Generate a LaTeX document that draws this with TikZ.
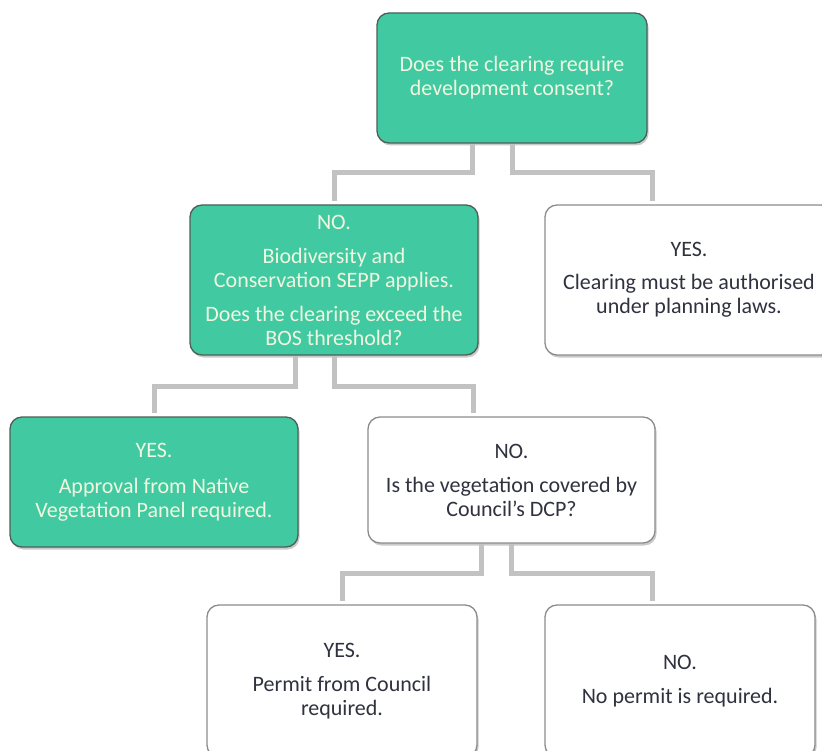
\documentclass[tikz,border=0pt]{standalone}
\usepackage{fontspec}
\setmainfont{Carlito}
\usepackage{tikz}
\usetikzlibrary{shadows}
\definecolor{teal1}{HTML}{41C9A2}
\definecolor{tealedge}{HTML}{4E5F58}
\definecolor{creamtext}{HTML}{F1F6DF}
\definecolor{darktext}{HTML}{30323F}
\definecolor{linkgray}{HTML}{C2C2C2}
\definecolor{boxedge}{HTML}{8C8C8C}

\begin{document}
\begin{tikzpicture}[x=1pt,y=-1pt,
  box/.style={rounded corners=12pt,line width=1.3pt,inner sep=0pt,align=center,
    font=\fontsize{22}{24}\selectfont,
    drop shadow={shadow xshift=1.5pt,shadow yshift=-2.5pt,opacity=.35,fill=black!60}},
  greenbox/.style={box,draw=tealedge,fill=teal1,text=creamtext},
  whitebox/.style={box,draw=boxedge,fill=white,text=darktext},
  link/.style={draw=linkgray,line width=5pt,shorten >=3pt}]
  \useasboundingbox (0,0) rectangle (822,751);
  \node[greenbox,minimum width=270pt,minimum height=130pt] (consent) at (512,78)
    {Does the clearing require\\development consent?};
  \node[greenbox,minimum width=288pt,minimum height=150pt] (sepp) at (334,280)
    {NO.\\[10pt]Biodiversity and\\Conservation SEPP applies.\\[10pt]Does the clearing exceed the\\BOS threshold?};
  \node[whitebox,minimum width=288pt,minimum height=150pt] (planning) at (689,280)
    {YES.\\[9pt]Clearing must be authorised\\under planning laws.};
  \node[greenbox,minimum width=288pt,minimum height=130pt] (panel) at (154,482)
    {YES.\\[12pt]Approval from Native\\Vegetation Panel required.};
  \node[whitebox,minimum width=287pt,minimum height=126pt] (dcp) at (511.5,480)
    {NO.\\[10pt]Is the vegetation covered by\\Council's DCP?};
  \node[whitebox,minimum width=270pt,minimum height=152pt] (permit) at (342,681)
    {YES.\\[10pt]Permit from Council\\required.};
  \node[whitebox,minimum width=270pt,minimum height=152pt] (nopermit) at (680,681)
    {NO.\\[10pt]No permit is required.};
  \draw[link] ([xshift=-40pt]consent.south) -- ++(0,29) -| (sepp.north);
  \draw[link] (consent.south) -- ++(0,29) -| ([xshift=-37pt]planning.north);
  \draw[link] ([xshift=-39pt]sepp.south) -- ++(0,31) -| (panel.north);
  \draw[link] (sepp.south) -- ++(0,31) -| ([xshift=-38pt]dcp.north);
  \draw[link] ([xshift=-30pt]dcp.south) -- ++(0,30) -| (permit.north);
  \draw[link] (dcp.south) -- ++(0,30) -| ([xshift=-28pt]nopermit.north);
\end{tikzpicture}
\end{document}
